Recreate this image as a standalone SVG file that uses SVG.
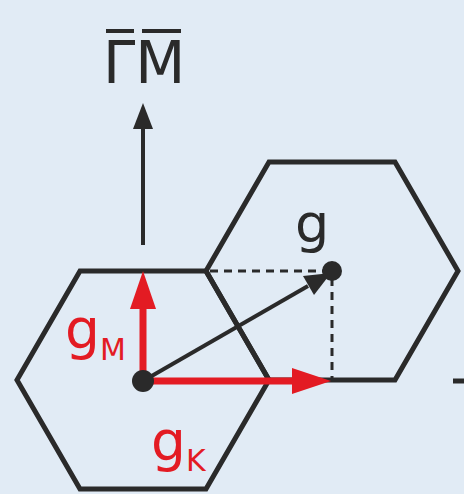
<svg xmlns="http://www.w3.org/2000/svg" width="464" height="494" viewBox="0 0 464 494">
<defs>
<style>
.hex{fill:none;stroke:#2a2a2a;stroke-width:5;stroke-linejoin:miter}
.dash{stroke:#2a2a2a;stroke-width:3;stroke-dasharray:8 6;fill:none}
.blk{stroke:#2a2a2a;stroke-width:4;fill:none}
.red{stroke:#e31b23;stroke-width:7;fill:none}
.t{font-family:"DejaVu Sans",sans-serif}
</style>
</defs>
<rect width="464" height="494" fill="#e1ebf5"/>
<g id="hex-left"><polygon class="hex" points="17,380 80,271 206,271 269,380 206,489 80,489"/></g>
<g id="hex-right"><polygon class="hex" points="206,271 269,162 395,162 458,271 395,380 269,380"/></g>
<g id="edge-stub"><line x1="453" y1="381" x2="464" y2="381" stroke="#2a2a2a" stroke-width="5"/></g>
<g id="connectors">
<line class="dash" x1="210" y1="271" x2="326" y2="271"/>
<line class="dash" x1="332" y1="278" x2="332" y2="378"/>
<line class="blk" x1="143" y1="245" x2="143" y2="126"/>
<polygon fill="#2a2a2a" points="143,103 133,129 153,129"/>
<line class="blk" x1="143" y1="381" x2="308" y2="286"/>
<polygon fill="#2a2a2a" points="331,273 303,276 314,295"/>
<line class="red" x1="143" y1="381" x2="143" y2="305"/>
<polygon fill="#e31b23" points="143,271 130,309 156,309"/>
<line class="red" x1="143" y1="381" x2="296" y2="381"/>
<polygon fill="#e31b23" points="331,381 292,368 292,394"/>
</g>
<g id="node-origin"><circle cx="143" cy="381" r="11" fill="#2a2a2a"/></g>
<g id="node-g"><circle cx="332" cy="271" r="10" fill="#2a2a2a"/>
<text class="t" x="295" y="242" font-size="54" fill="#2a2a2a">g</text></g>
<g id="label-GM">
<text class="t" x="103" y="83" font-size="58" fill="#2a2a2a">ΓM</text>
<line x1="106" y1="31" x2="134" y2="31" stroke="#2a2a2a" stroke-width="4"/>
<line x1="142" y1="31" x2="181" y2="31" stroke="#2a2a2a" stroke-width="4"/>
</g>
<g id="label-gM"><text class="t" x="65" y="348" font-size="55" fill="#e31b23">g<tspan font-size="30" dy="12">M</tspan></text></g>
<g id="label-gK"><text class="t" x="151" y="460" font-size="55" fill="#e31b23">g<tspan font-size="30" dy="11">K</tspan></text></g>
</svg>
